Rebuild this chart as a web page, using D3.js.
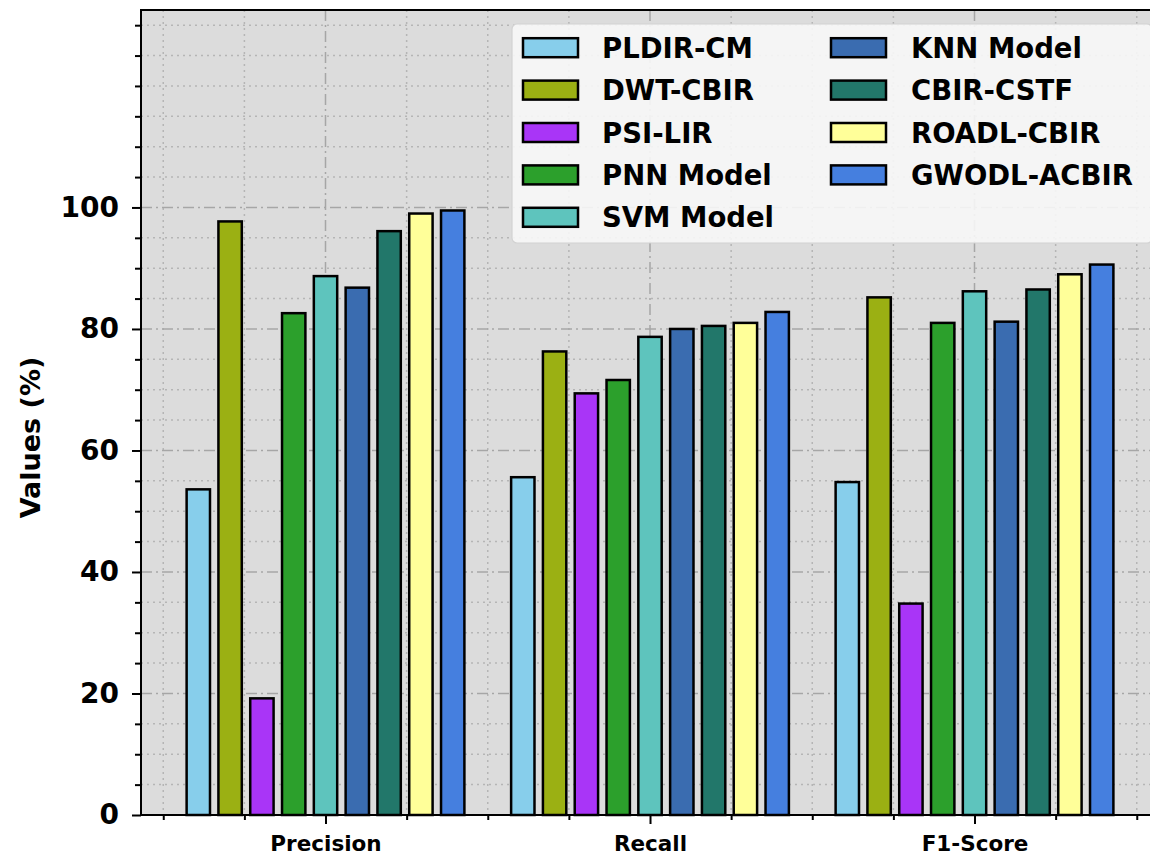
<!DOCTYPE html>
<html>
<head>
<meta charset="utf-8">
<script src="https://cdn.jsdelivr.net/npm/d3@7"></script>
<style>
  html, body { margin: 0; padding: 0; background: #ffffff; }
  svg { display: block; font-family: "DejaVu Sans", sans-serif; }
</style>
</head>
<body>
<svg id="chart" width="1150" height="857"></svg>
<script>
// ---- data ----
const categories = ["Precision", "Recall", "F1-Score"];
const models = ["PLDIR-CM", "DWT-CBIR", "PSI-LIR", "PNN Model", "SVM Model",
                "KNN Model", "CBIR-CSTF", "ROADL-CBIR", "GWODL-ACBIR"];
const colors = ["#87ceeb", "#9bb013", "#a935f7", "#2ca02c", "#5ec4bd",
                "#3a6cb0", "#22776a", "#ffff99", "#457fdf"];
const precision = [53.6, 97.7, 19.2, 82.6, 88.7, 86.8, 96.1, 99.0, 99.5];
const recall    = [55.6, 76.3, 69.4, 71.6, 78.7, 80.0, 80.5, 81.0, 82.8];
const f1score   = [54.8, 85.2, 34.8, 81.0, 86.2, 81.2, 86.5, 89.0, 90.6];
const seriesByCategory = [precision, recall, f1score];
const yMajorTicks = [0, 20, 40, 60, 80, 100];
const yLabel = "Values (%)";

(function () {
// ---- layout ----
const svg = d3.select("#chart");
const pLeft = 141, pTop = 10, pBottom = 815;
const x = d3.scaleLinear().domain([-0.5686, 2.5686]).range([pLeft, pLeft + 3.1372 * 324.5]);
const y = d3.scaleLinear().domain([0, 132.5]).range([pBottom, pTop]);
const pRight = x.range()[1];
const barStep = 0.098, barWidth = 0.072;

// background
svg.append("rect").attr("x", pLeft).attr("y", pTop)
  .attr("width", pRight - pLeft).attr("height", pBottom - pTop)
  .attr("fill", "#dcdcdc");

const grid = svg.append("g");
const xMinor = d3.range(-2, 11).map(k => k * 0.25);
const yMinor = d3.range(0, 131, 5);

// vertical grid
xMinor.forEach(v => {
  const major = Math.abs(v - Math.round(v)) < 1e-9;
  grid.append("line")
    .attr("x1", x(v)).attr("x2", x(v)).attr("y1", pTop).attr("y2", pBottom)
    .attr("stroke", major ? "#a6a6a6" : "#b5b5b5")
    .attr("stroke-width", 1.5)
    .attr("stroke-dasharray", major ? "11,4,2,4" : "2,4");
});
// horizontal grid
yMinor.forEach(v => {
  const major = yMajorTicks.includes(v);
  grid.append("line")
    .attr("x1", pLeft).attr("x2", pRight).attr("y1", y(v)).attr("y2", y(v))
    .attr("stroke", major ? "#a6a6a6" : "#b5b5b5")
    .attr("stroke-width", 1.5)
    .attr("stroke-dasharray", major ? "11,4,2,4" : "2,4");
});

// bars
const barsData = [];
seriesByCategory.forEach((vals, g) => {
  vals.forEach((v, i) => barsData.push({g, i, v}));
});
svg.append("g").selectAll("rect").data(barsData).join("rect")
  .attr("x", d => x(d.g + (d.i - 4) * barStep - barWidth / 2))
  .attr("width", d => x(barWidth) - x(0))
  .attr("y", d => y(d.v))
  .attr("height", d => y(0) - y(d.v))
  .attr("fill", d => colors[d.i])
  .attr("stroke", "#000")
  .attr("stroke-width", 2.5);

// axes
const yAxis = d3.axisLeft(y).tickValues(yMajorTicks).tickSize(9).tickPadding(13).tickFormat(d3.format("d"));
const yAxisMinor = d3.axisLeft(y).tickValues(yMinor.filter(v => !yMajorTicks.includes(v))).tickSize(6).tickFormat("");
const xAxis = d3.axisBottom(x).tickValues([0, 1, 2]).tickSize(9).tickPadding(12).tickFormat(i => categories[i]);
const xAxisMinor = d3.axisBottom(x).tickValues(xMinor.filter(v => Math.abs(v - Math.round(v)) > 1e-9)).tickSize(5).tickFormat("");

function styleAxis(g) {
  g.select(".domain").remove();
  g.selectAll(".tick line").attr("stroke", "#000").attr("stroke-width", 2);
}
svg.append("g").attr("transform", `translate(${pLeft},0)`).call(yAxisMinor).call(styleAxis);
const gy = svg.append("g").attr("transform", `translate(${pLeft},0)`).call(yAxis).call(styleAxis);
gy.selectAll("text").attr("font-size", 28).attr("font-weight", "bold").attr("fill", "#000")
  .attr("font-family", "DejaVu Sans");
svg.append("g").attr("transform", `translate(0,${pBottom})`).call(xAxisMinor).call(styleAxis);
const gx = svg.append("g").attr("transform", `translate(0,${pBottom})`).call(xAxis).call(styleAxis);
gx.selectAll("text").attr("font-size", 21.5).attr("font-weight", "bold").attr("fill", "#000")
  .attr("font-family", "DejaVu Sans");

// spines
svg.append("rect").attr("x", pLeft).attr("y", pTop)
  .attr("width", pRight - pLeft).attr("height", pBottom - pTop)
  .attr("fill", "none").attr("stroke", "#000").attr("stroke-width", 2);

// y label
svg.append("text")
  .attr("transform", `translate(30,${(pTop + pBottom) / 2 + 25}) rotate(-90)`)
  .attr("text-anchor", "middle").attr("dominant-baseline", "central")
  .attr("font-size", 27).attr("font-weight", "bold").attr("fill", "#000")
  .text(yLabel);

// legend
const lg = svg.append("g");
lg.append("rect").attr("x", 512).attr("y", 24).attr("width", 640).attr("height", 219)
  .attr("rx", 5).attr("fill", "#f7f7f7").attr("fill-opacity", 0.9)
  .attr("stroke", "#d2d2d2").attr("stroke-width", 1.2);
const colX = [523, 831];
const textX = [602, 911];
const rowY0 = 47.7, rowStep = 42.4;
models.forEach((m, i) => {
  const c = i < 5 ? 0 : 1;
  const r = i < 5 ? i : i - 5;
  const cy = rowY0 + r * rowStep;
  lg.append("rect").attr("x", colX[c]).attr("y", cy - 9.5).attr("width", 55).attr("height", 19)
    .attr("fill", colors[i]).attr("stroke", "#000").attr("stroke-width", 2.5);
  lg.append("text").attr("x", textX[c]).attr("y", cy).attr("dominant-baseline", "central")
    .attr("font-size", 27.5).attr("font-weight", "bold").attr("fill", "#000")
    .text(m);
});
})();
</script>
</body>
</html>
